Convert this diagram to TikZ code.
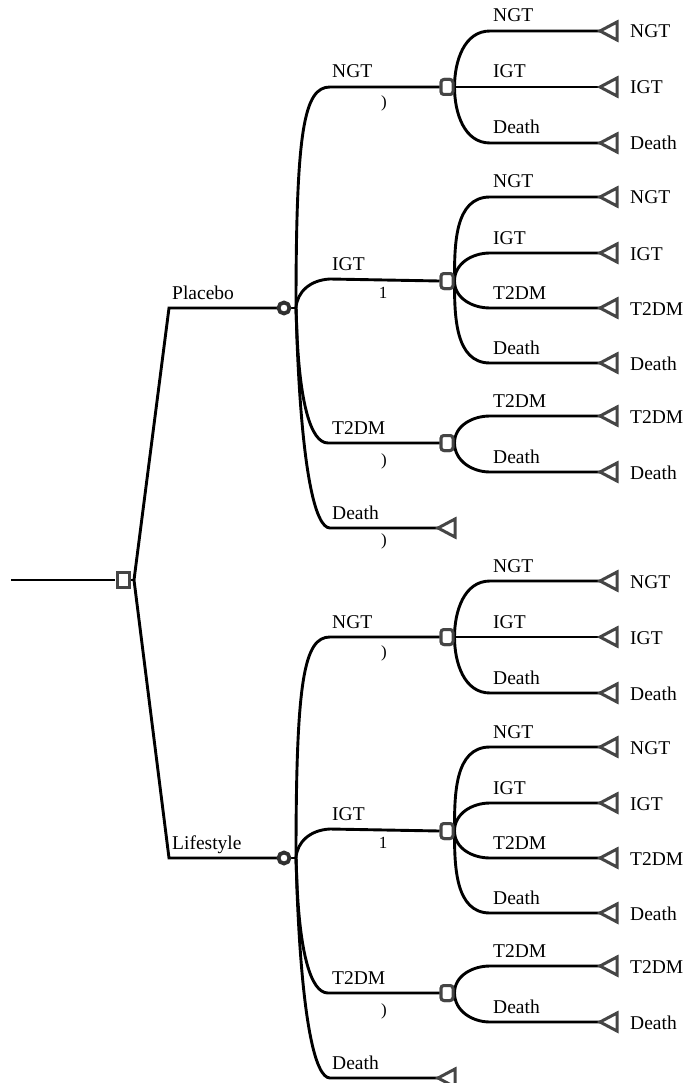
\documentclass[tikz,border=0pt]{standalone}
\usepackage{fontspec}
\setmainfont{Liberation Serif}
\definecolor{nodegray}{HTML}{454545}
\definecolor{chgray}{HTML}{303030}
\begin{document}
\begin{tikzpicture}[x=1pt,y=-1pt,
  br/.style={line width=2.9pt,black},
  ndc/.style={draw=nodegray,line width=3pt,fill=white,inner sep=0pt},
  decnode/.style={ndc,rectangle,minimum width=12pt,minimum height=15pt},
  chcnode/.style={ndc,draw=chgray,circle,line width=3.8pt,minimum size=11pt},
  subnode/.style={ndc,rectangle,rounded corners=3pt,minimum width=12pt,minimum height=15pt},
  term/.style={draw=nodegray,line width=3pt,line join=miter},
  lbl/.style={anchor=base west,font=\fontsize{19.5}{20}\selectfont,inner sep=0pt},
  vlbl/.style={anchor=center,font=\fontsize{17}{18}\selectfont,inner sep=0pt}]
\useasboundingbox (0,0) rectangle (684,1083);

\coordinate (in) at (11,580);
\coordinate (Dx) at (134,580);
\draw[br] (in) -- (115,580);
\draw[br] (130,580) -- (Dx);

\foreach \s/\off/\nm in {p/0/Placebo, l/550/Lifestyle}{
\begin{scope}[yshift=-\off pt]
  \coordinate (K\s) at (169,308);
  \coordinate (R\s) at (296,308);
  \draw[br] (Dx) -- (K\s) -- (284,308);
  \draw[br] (284,308) -- (R\s);
  \node[lbl] (lab\s) at (172,299) {\nm};
  % main branches
  \coordinate (m1\s) at (330,87);
  \coordinate (m2\s) at (330,279);
  \coordinate (m3\s) at (328,443);
  \coordinate (m4\s) at (330,528);
  \coordinate (t0\s) at (438,528);
  \node[subnode] (a1\s) at (447,87) {};
  \node[subnode] (a2\s) at (447,281) {};
  \node[subnode] (a3\s) at (447,443) {};
  \draw[br] (R\s) .. controls (296,130) and (304,87) .. (m1\s) -- (a1\s.west);
  \draw[br] (R\s) .. controls (297,292) and (310,280) .. (m2\s) -- (a2\s.west);
  \draw[br] (R\s) -- (297,335) .. controls (300,400) and (310,443) .. (m3\s) -- (a3\s.west);
  \draw[br] (R\s) -- (297,340) .. controls (302,470) and (315,528) .. (m4\s) -- (t0\s);
  \draw[term] (t0\s) -- ++(17,-9) -- ++(0,18) -- cycle;
  \node[chcnode] (C\s) at (284,308) {};
  \node[lbl] at (332,78) {NGT};
  \node[lbl] at (332,270) {IGT};
  \node[lbl] at (332,434) {T2DM};
  \node[lbl] at (332,519) {Death};
  \node[vlbl] at (384,103) {)};
  \node[vlbl] at (383,293) {1};
  \node[vlbl] at (384,461) {)};
  % sub branches
  \foreach \nd/\yy/\ang/\lb [count=\k] in {
      a1/31/90/NGT, a1/87/0/IGT, a1/143/-90/Death,
      a2/197/90/NGT, a2/253/90/IGT, a2/308/-90/T2DM, a2/363/-90/Death,
      a3/416/90/T2DM, a3/472/-90/Death}{
    \coordinate (e\s\k) at (490,\yy);
    \coordinate (t\s\k) at (600,\yy);
    \draw[br] (\nd\s.east) to[out=\ang,in=180] (e\s\k) -- (t\s\k);
    \draw[term] (t\s\k) -- ++(17,-9) -- ++(0,18) -- cycle;
    \node[lbl] at (493,{\yy-9}) {\lb};
    \node[lbl] at (630,{\yy+7}) {\lb};
  }
  \node[subnode] at (447,87) {};
  \node[subnode] at (447,281) {};
  \node[subnode] at (447,443) {};
\end{scope}
}
\node[vlbl] at (384,541) {)};
\node[decnode] (D) at (123,580) {};
\end{tikzpicture}
\end{document}
